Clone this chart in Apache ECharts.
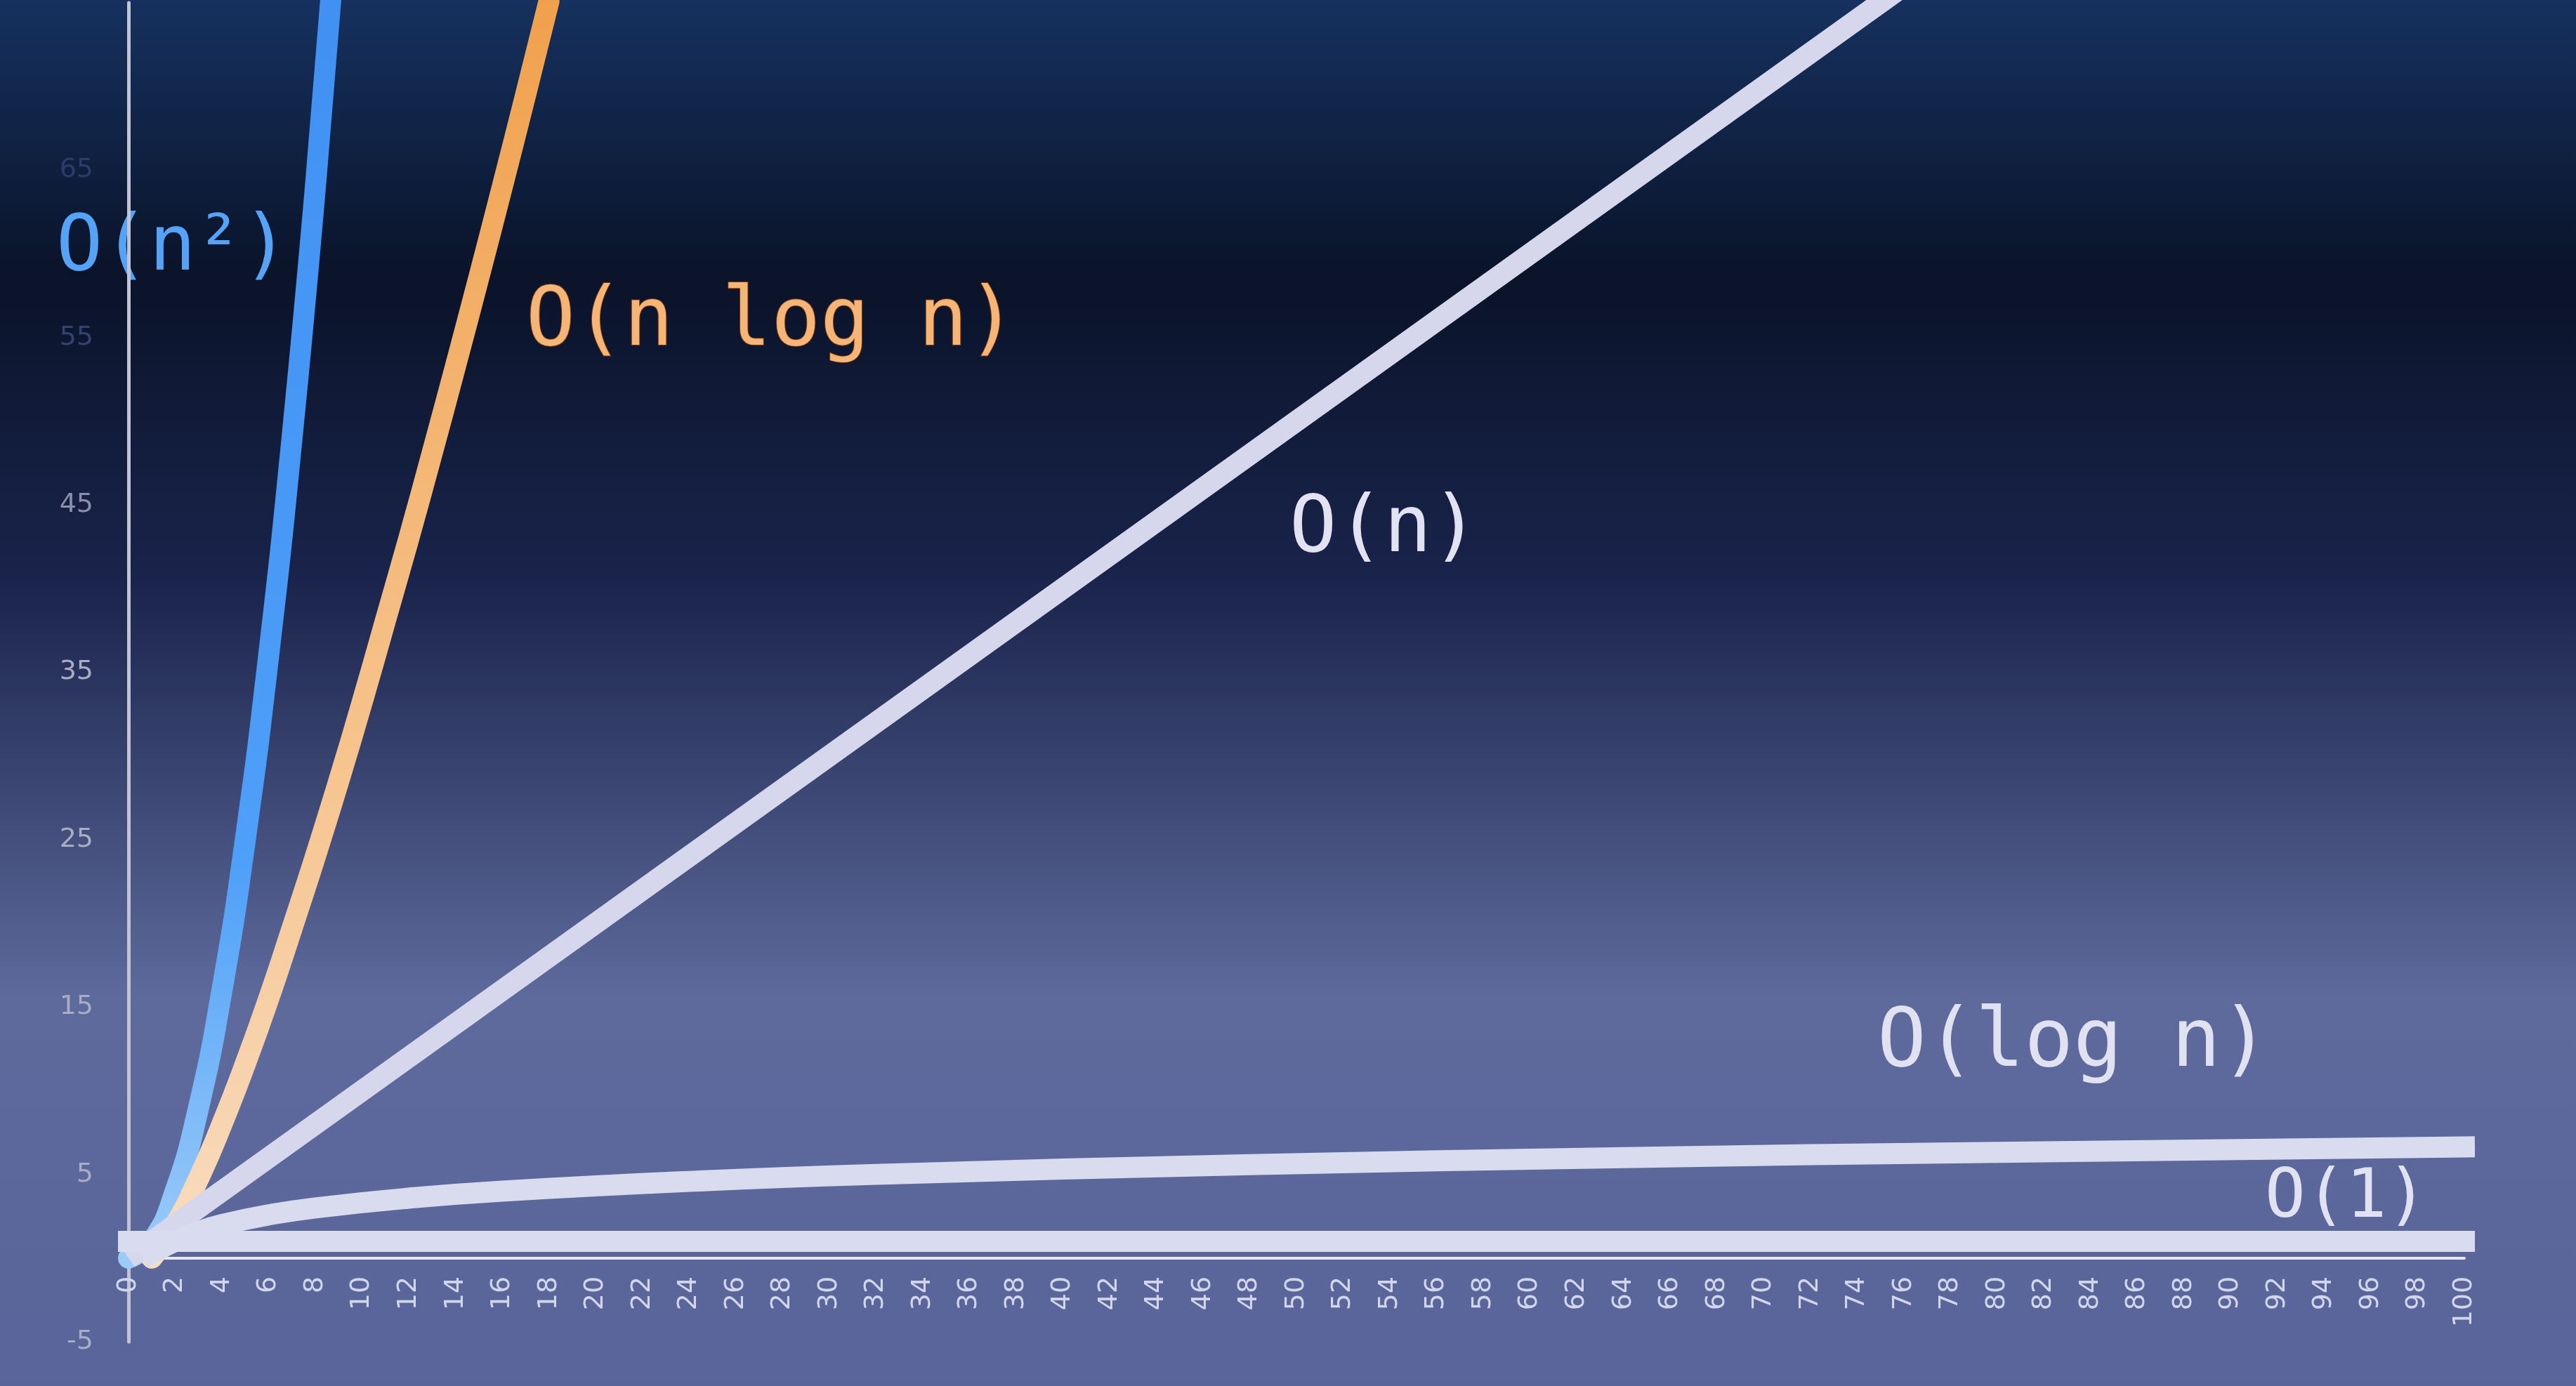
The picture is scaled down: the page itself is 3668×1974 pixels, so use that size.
<!DOCTYPE html>
<html>
<head>
<meta charset="utf-8">
<script src="https://cdn.jsdelivr.net/npm/echarts@6/dist/echarts.min.js"></script>
<style>
html,body{margin:0;padding:0;width:100%;height:100%;background:#0b1430;}
#chart{width:3668px;height:1974px;}
</style>
</head>
<body>
<div id="chart"></div>
<script>
// ---- data ----
const xTicks = { min: 0, max: 100, interval: 2 };
const yTicks = { min: -5, max: 75, interval: 10 };

const quadN   = [0, 1, 2, 3, 4, 5, 6, 7, 8, 9];
const quadVal = [0, 1, 4, 9, 16, 25, 36, 49, 64, 81];

const nlognN   = [1, 2, 3, 4, 5, 6, 7, 8, 9, 10, 11, 12, 13, 14, 15, 16, 17, 18];
const nlognVal = [0, 2, 4.75, 8, 11.6, 15.5, 19.7, 24, 28.5, 33.2, 38.1, 43.0, 48.1, 53.3, 58.6, 64, 69.5, 75.1];

const linN   = [0, 20, 40, 60, 76];
const linVal = [0, 20, 40, 60, 76];

const logN   = [1, 2, 3, 4, 6, 8, 12, 16, 24, 32, 48, 64, 80, 100];
const logVal = [0.3, 1, 1.58, 2, 2.58, 3, 3.58, 4, 4.58, 5, 5.58, 6, 6.32, 6.64];

const constN   = [0, 100];
const constVal = [1, 1];

const labels = ['O(n²)', 'O(n log n)', 'O(n)', 'O(log n)', 'O(1)'];

function pairs(xs, ys) { return xs.map((x, i) => [x, ys[i]]); }

const chart = echarts.init(document.getElementById('chart'));
const mono = '"DejaVu Sans Mono", monospace';
const whiteLine = '#d6d7ec';

const gridTop = 4, gridBottom = 63;
const gridH = 1974 - gridTop - gridBottom;
// distance from the grid bottom (y = -5) up to y = 0, so the x axis sits on zero
const zeroOffset = -gridH * (0 - yTicks.min) / (yTicks.max - yTicks.min);

function yLabelColor(v) {
  if (v >= 65) return '#2c3c6a';
  if (v >= 55) return '#34446e';
  if (v >= 45) return '#8a90aa';
  return '#a9adc4';
}

const option = {
  backgroundColor: {
    type: 'linear', x: 0, y: 0, x2: 0, y2: 1,
    colorStops: [
      { offset: 0, color: '#16315f' },
      { offset: 0.2, color: '#0a1329' },
      { offset: 0.42, color: '#1a244c' },
      { offset: 0.72, color: '#5e6a9c' },
      { offset: 1, color: '#59659a' }
    ]
  },
  animation: false,
  grid: { left: 183, right: 159, top: gridTop, bottom: gridBottom, containLabel: false, outerBoundsMode: 'none' },
  xAxis: {
    type: 'value',
    position: 'bottom',
    offset: zeroOffset,
    min: xTicks.min, max: xTicks.max, interval: xTicks.interval,
    axisLine: { onZero: false, lineStyle: { color: '#e6e8f4', width: 4 } },
    axisTick: { show: false },
    splitLine: { show: false },
    axisLabel: { rotate: 90, color: '#d2d6ea', fontSize: 38, margin: 26, fontFamily: 'DejaVu Sans' }
  },
  yAxis: {
    type: 'value',
    min: yTicks.min, max: yTicks.max, interval: yTicks.interval,
    axisLine: { show: true, onZero: false, lineStyle: { color: '#c0c4d4', width: 5 } },
    axisTick: { show: false },
    splitLine: { show: false },
    axisLabel: { color: yLabelColor, fontSize: 38, margin: 50, showMaxLabel: false, fontFamily: 'DejaVu Sans' }
  },
  series: [
    {
      name: labels[0], type: 'line', smooth: true, showSymbol: false, clip: true,
      data: pairs(quadN, quadVal),
      lineStyle: { width: 30, cap: 'round',
        color: { type: 'linear', x: 0, y: 0, x2: 0, y2: 1,
          colorStops: [{ offset: 0, color: '#3f8ff2' }, { offset: 0.7, color: '#4d9ff8' }, { offset: 1, color: '#9cccf8' }] } }
    },
    {
      name: labels[1], type: 'line', smooth: true, showSymbol: false, clip: true,
      data: pairs(nlognN, nlognVal),
      lineStyle: { width: 30, cap: 'round',
        color: { type: 'linear', x: 0, y: 0, x2: 0, y2: 1,
          colorStops: [{ offset: 0, color: '#f0a04c' }, { offset: 0.6, color: '#f6c48e' }, { offset: 1, color: '#f8dcc0' }] } }
    },
    {
      name: labels[2], type: 'line', smooth: false, showSymbol: false, clip: true,
      data: pairs(linN, linVal),
      lineStyle: { width: 30, color: whiteLine, cap: 'butt' }
    },
    {
      name: labels[3], type: 'line', smooth: true, showSymbol: false, clip: false,
      data: pairs(logN, logVal),
      lineStyle: { width: 30, color: '#d9dbef', cap: 'square' }
    },
    {
      name: labels[4], type: 'line', smooth: false, showSymbol: false, clip: false,
      data: pairs(constN, constVal),
      lineStyle: { width: 30, color: '#d9dbef', cap: 'square' }
    }
  ],
  graphic: [
    { type: 'text', left: 80, top: 300, style: { text: labels[0], font: '110px ' + mono, fill: '#55a3f6' } },
    { type: 'text', left: 748, top: 402, style: { text: labels[1], font: '116px ' + mono, fill: '#f5b577', stroke: '#7a3a10', lineWidth: 2 } },
    { type: 'text', left: 1836, top: 700, style: { text: labels[2], font: '112px ' + mono, fill: '#e2e2f2' } },
    { type: 'text', left: 2673, top: 1430, style: { text: labels[3], font: '116px ' + mono, fill: '#e0e2f2' } },
    { type: 'text', left: 3225, top: 1660, style: { text: labels[4], font: '96px ' + mono, fill: '#e0e2f2' } }
  ]
};
chart.setOption(option);
</script>
</body>
</html>
